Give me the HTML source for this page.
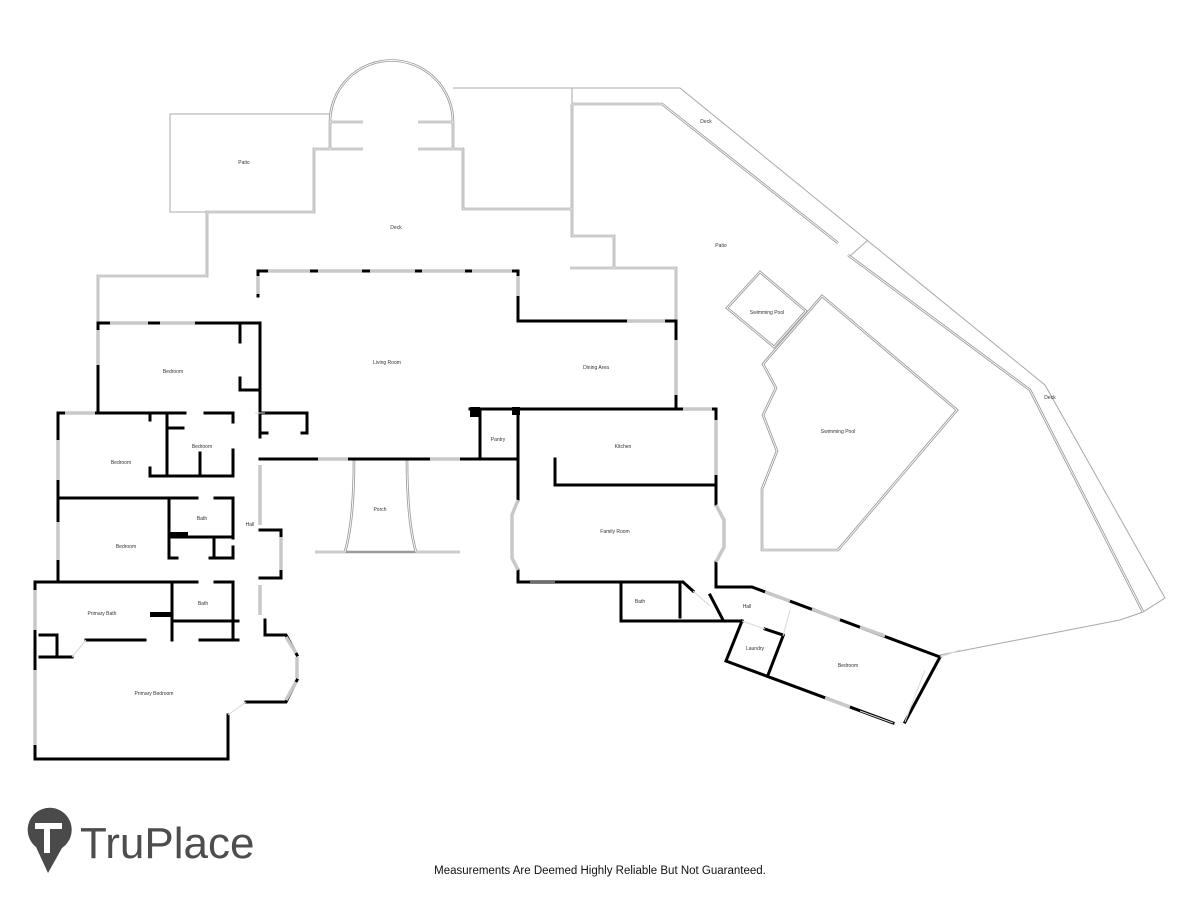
<!DOCTYPE html>
<html><head><meta charset="utf-8"><style>
html,body{margin:0;padding:0;background:#fff;}
svg{display:block}
.o{fill:none;stroke:#9a9a9a;stroke-width:2.6;stroke-linejoin:miter}
.oi{fill:none;stroke:#fff;stroke-width:0.9}
.s{fill:none;stroke:#a8a8a8;stroke-width:1}
.w{fill:none;stroke:#000;stroke-width:3;stroke-linecap:square;stroke-linejoin:miter}
.win{fill:none;stroke:#c8c8c8;stroke-width:3.5}
.dr{fill:none;stroke:#d8d8d8;stroke-width:1}
text{font-family:"Liberation Sans",sans-serif;font-size:5px;fill:#333;text-anchor:middle}
</style></head><body>
<svg width="1200" height="900" viewBox="0 0 1200 900" xmlns="http://www.w3.org/2000/svg">
<g>
<polyline class="s" points="330,114 170,114 170,212 207,212"/>
<path class="s" d="M453,88 L680,88 L1045,385 L1165,598 L1143,612 L1120,620 L940,655"/>
<line class="s" x1="572" y1="88" x2="572" y2="104"/>
<line class="s" x1="850" y1="256" x2="868" y2="240"/>
</g>
<g>
<path class="o" d="M98,322 L98,276 L207,276 L207,212 L314,212 L314,149 L363,149"/>
<path class="o" d="M330,149 L330,122 A61.5,61.5 0 0 1 453,122 L453,149"/>
<path class="o" d="M330,122 L363,122 M418,122 L453,122 M418,149 L463,149 L463,209 L572,209"/>
<path class="o" d="M572,104 L662,104 L838,243 M848,255 L1030,390 L1143,612"/>
<path class="o" d="M572,104 L572,236 L614,236 L614,268 M570,268 L676,268 L676,322"/>
<path class="o" d="M760,272 L806,311 L774,347 L727,308 Z"/>
<path class="o" d="M822,296 L957,410 L838,550 L762,550 L762,489 L777,451 L763,415 L776,388 L763,364 Z"/>
<path class="o" d="M315,552 L345,552 Q354,520 354,460 M460,552 L416,552 Q407,520 407,460 M345,552 L416,552"/>
</g>
<g>
<path class="oi" d="M98,322 L98,276 L207,276 L207,212 L314,212 L314,149 L363,149"/>
<path class="oi" d="M330,149 L330,122 A61.5,61.5 0 0 1 453,122 L453,149"/>
<path class="oi" d="M330,122 L363,122 M418,122 L453,122 M418,149 L463,149 L463,209 L572,209"/>
<path class="oi" d="M572,104 L662,104 L838,243 M848,255 L1030,390 L1143,612"/>
<path class="oi" d="M572,104 L572,236 L614,236 L614,268 M570,268 L676,268 L676,322"/>
<path class="oi" d="M760,272 L806,311 L774,347 L727,308 Z"/>
<path class="oi" d="M822,296 L957,410 L838,550 L762,550 L762,489 L777,451 L763,415 L776,388 L763,364 Z"/>
<path class="oi" d="M315,552 L345,552 Q354,520 354,460 M460,552 L416,552 Q407,520 407,460"/>
</g>
<g class="w">
<path d="M98,413 L98,323 L260,323 L260,413"/>
<path d="M240,323 L240,342 M240,378 L240,390 L260,390"/>
<path d="M58,413 L185,413 M205,413 L233,413"/>
<path d="M150,413 L150,420 M150,468 L150,476 L233,476 M167,413 L167,476 M167,428 L183,428 M200,453 L200,476 M233,413 L233,422 M233,450 L233,476"/>
<path d="M58,413 L58,582"/>
<path d="M58,498 L197,498 M215,498 L233,498 L233,538 M169,498 L169,558 L177,558 M210,558 L233,558 L233,547 M169,537 L233,537 M214,537 L214,558"/>
<rect x="170" y="532" width="18" height="6" fill="#000" stroke="none"/>
<path d="M35,582 L197,582 M215,582 L233,582 L233,637 M172,582 L172,640 M172,621 L238,621 M86,640 L145,640 M200,640 L238,640"/>
<rect x="150" y="612" width="23" height="5" fill="#000" stroke="none"/>
<path d="M35,582 L35,759 L228,759 L228,715"/>
<path d="M40,635 L57,635 L57,655 M40,657 L72,657"/>
<path d="M246,702 L286,702 L297,680 M297,655 L286,635 L265,635 L265,620"/>
<path d="M260,413 L307,413 L307,433 L302,433 M260,433 L267,433 M260,413 L260,437"/>
<path d="M260,530 L281,530 L281,578 L260,578"/>
<path d="M258,271 L518,271 L518,320 M518,321 L676,321 L676,409"/>
<path d="M258,271 L258,296"/>
<path d="M260,459 L480,459 M480,409 L480,459 L518,459 M470,409 L518,409 L716,409 L716,485 M518,409 L518,500 M518,570 L518,582 L683,582 L693,591"/>
<path d="M555,459 L555,485 L716,485 M716,485 L716,505 M716,562 L716,587 L752,587 L940,657 L905,722"/>
<path d="M621,582 L621,621 L742,621 M680,582 L680,617 M710,595 L723,620"/>
<path d="M742,621 L726,661 L893,723 M768,675 L783,636 M765,629 L783,635"/>
</g>
<rect x="470" y="407" width="10" height="10" fill="#000"/><rect x="512" y="407" width="8" height="8" fill="#000"/>
<g class="win">
<path d="M110,323 L148,323 M160,323 L195,323 M98,330 L98,365 M65,413 L95,413 M58,440 L58,480 M58,522 L58,560 M35,590 L35,630 M35,670 L35,745"/>
<path d="M268,271 L310,271 M318,271 L362,271 M370,271 L415,271 M422,271 L465,271 M472,271 L512,271 M258,276 L258,294 M518,276 L518,296 M627,321 L665,321"/>
<path d="M318,459 L348,459 M430,459 L460,459 M683,409 L712,409 M716,420 L716,475 M676,340 L676,395"/>
<path d="M518,500 L512,515 L512,558 L518,570 M716,505 L724,520 L724,547 L716,562"/>
<path d="M260,465 L260,525 M281,537 L281,570 M260,585 L260,615 M297,657 L297,678 M286,637 L296,653 M286,700 L296,682"/>
<path d="M765,592 L790,601 M812,609 L840,620 M860,627 L885,636 M825,698 L850,707"/>
</g>
<g class="dr">
<path d="M246,702 L228,715 M72,657 L86,640 M693,591 L710,606 M742,621 L765,629 M783,636 L790,610 M860,711 L893,723 M925,670 L905,722 M940,657 L960,650 M530,582 L555,582 M255,413 L265,413"/>
</g>
<text x="244" y="164">Patio</text>
<text x="396" y="229">Deck</text>
<text x="706" y="123">Deck</text>
<text x="721" y="247">Patio</text>
<text x="1050" y="399">Deck</text>
<text x="767" y="314">Swimming Pool</text>
<text x="838" y="433">Swimming Pool</text>
<text x="173" y="373">Bedroom</text>
<text x="387" y="364">Living Room</text>
<text x="596" y="369">Dining Area</text>
<text x="121" y="464">Bedroom</text>
<text x="202" y="448">Bedroom</text>
<text x="498" y="441">Pantry</text>
<text x="623" y="448">Kitchen</text>
<text x="250" y="526">Hall</text>
<text x="202" y="520">Bath</text>
<text x="126" y="548">Bedroom</text>
<text x="380" y="511">Porch</text>
<text x="615" y="533">Family Room</text>
<text x="102" y="615">Primary Bath</text>
<text x="203" y="605">Bath</text>
<text x="640" y="603">Bath</text>
<text x="747" y="608">Hall</text>
<text x="755" y="650">Laundry</text>
<text x="848" y="667">Bedroom</text>
<text x="154" y="695">Primary Bedroom</text>
<path d="M48,873 L36,847 A22,22 0 1 1 62,848 Z" fill="#4a4a4a"/>
<rect x="35" y="823" width="27" height="6" fill="#fff"/>
<rect x="44" y="823" width="6" height="30" fill="#fff"/>
<text x="80" y="858" style="font-size:44px;fill:#4d4d4d;text-anchor:start">TruPlace</text>
<text x="600" y="874" style="font-size:11.5px;fill:#111">Measurements Are Deemed Highly Reliable But Not Guaranteed.</text>
</svg>
</body></html>
